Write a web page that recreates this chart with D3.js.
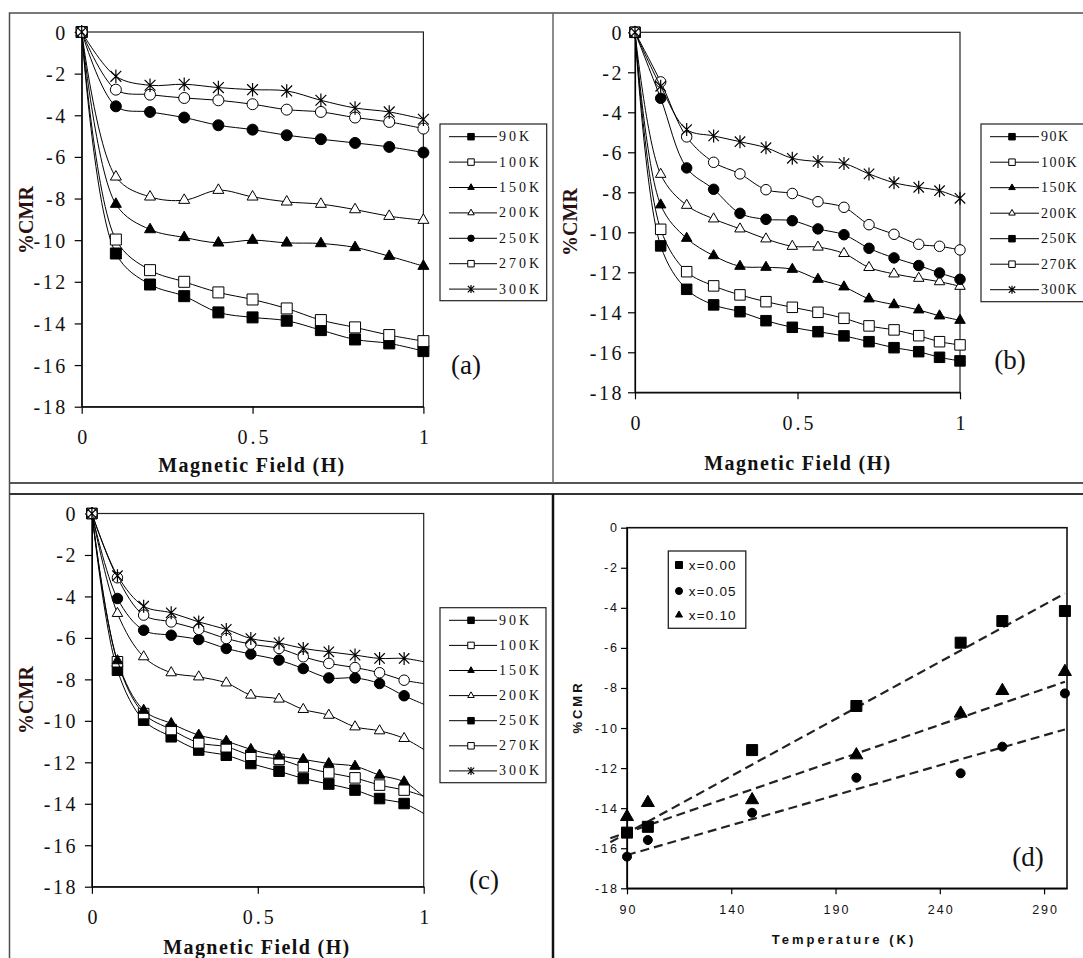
<!DOCTYPE html>
<html>
<head>
<meta charset="utf-8">
<script src="https://cdn.jsdelivr.net/npm/d3@7"></script>
<style>
body { margin: 0; background: #fff; }
svg { display: block; }
</style>
</head>
<body>
<div id="chart"></div>
<script>
// temperatures used in panels a, b, c
const temps = ["90K", "100K", "150K", "200K", "250K", "270K", "300K"];
// marker used for each temperature in the plots
const markers = ["square", "squareOpen", "triangle", "triangleOpen", "circle", "circleOpen", "star"];

// panel (a)
const fieldA = [0, 0.1, 0.2, 0.3, 0.4, 0.5, 0.6, 0.7, 0.8, 0.9, 1.0];
const cmrA = [
  [0, -10.64, -12.13, -12.69, -13.47, -13.71, -13.87, -14.32, -14.77, -14.96, -15.33],
  [0, -9.97, -11.44, -12.0, -12.51, -12.85, -13.28, -13.84, -14.19, -14.56, -14.85],
  [0, -8.27, -9.49, -9.87, -10.13, -10.0, -10.13, -10.16, -10.35, -10.77, -11.25],
  [0, -6.96, -7.92, -8.08, -7.6, -7.92, -8.16, -8.27, -8.53, -8.85, -9.04],
  [0, -3.57, -3.84, -4.11, -4.48, -4.69, -4.96, -5.15, -5.33, -5.52, -5.79],
  [0, -2.77, -3.01, -3.17, -3.28, -3.47, -3.73, -3.84, -4.11, -4.32, -4.64],
  [0, -2.13, -2.56, -2.51, -2.67, -2.77, -2.83, -3.28, -3.65, -3.84, -4.19]
];
const legendMarkA = ["square", "squareOpen", "triangle", "triangleOpen", "circle", "squareOpen", "star"];

// panel (b)
const fieldB = [0, 0.079, 0.159, 0.242, 0.323, 0.403, 0.484, 0.563, 0.643, 0.72, 0.797, 0.873, 0.937, 1.0];
const cmrB = [
  [0, -10.68, -12.85, -13.63, -13.97, -14.42, -14.75, -14.97, -15.18, -15.47, -15.77, -15.97, -16.25, -16.43],
  [0, -9.85, -11.97, -12.68, -13.13, -13.47, -13.75, -14.0, -14.3, -14.68, -14.88, -15.17, -15.47, -15.63],
  [0, -8.63, -10.3, -11.17, -11.7, -11.75, -11.85, -12.35, -12.73, -13.33, -13.62, -13.88, -14.18, -14.4],
  [0, -7.1, -8.65, -9.33, -9.83, -10.33, -10.7, -10.74, -11.06, -11.76, -12.08, -12.3, -12.47, -12.7],
  [0, -3.3, -6.78, -7.85, -9.05, -9.35, -9.42, -9.83, -10.12, -10.8, -11.28, -11.66, -12.03, -12.35],
  [0, -2.48, -5.23, -6.5, -7.08, -7.87, -8.06, -8.47, -8.75, -9.62, -10.1, -10.6, -10.7, -10.88],
  [0, -2.7, -4.86, -5.18, -5.47, -5.77, -6.3, -6.46, -6.56, -7.08, -7.52, -7.75, -7.92, -8.3]
];
const legendMarkB = ["square", "squareOpen", "triangle", "triangleOpen", "square", "squareOpen", "star"];

// panel (c): the curve continues to H = 1 (endC), without a marker there
const fieldC = [0, 0.077, 0.156, 0.239, 0.322, 0.405, 0.479, 0.564, 0.637, 0.714, 0.793, 0.867, 0.941];
const cmrC = [
  [0, -7.56, -9.97, -10.77, -11.41, -11.66, -12.06, -12.43, -12.78, -13.05, -13.34, -13.75, -13.99],
  [0, -7.15, -9.65, -10.42, -11.06, -11.25, -11.66, -11.86, -12.22, -12.51, -12.75, -13.1, -13.34],
  [0, -7.1, -9.49, -10.13, -10.69, -10.98, -11.38, -11.7, -11.86, -12.06, -12.19, -12.62, -12.94],
  [0, -4.82, -6.91, -7.68, -7.88, -8.17, -8.76, -8.95, -9.45, -9.73, -10.29, -10.48, -10.85],
  [0, -4.1, -5.63, -5.87, -6.08, -6.51, -6.78, -7.07, -7.48, -7.93, -7.93, -8.2, -8.79],
  [0, -3.1, -4.9, -5.23, -5.59, -6.03, -6.3, -6.51, -6.91, -7.23, -7.43, -7.68, -8.04],
  [0, -3.0, -4.47, -4.79, -5.23, -5.59, -6.03, -6.24, -6.51, -6.67, -6.83, -6.99, -6.99]
];
const endC = [-14.47, -13.63, -13.67, -11.38, -9.2, -8.2, -7.15];
const legendMarkC = ["square", "squareOpen", "triangle", "triangleOpen", "square", "squareOpen", "star"];

// panel (d)
const tempD = [90, 100, 150, 200, 250, 270, 300];
const dopeD = ["x=0.00", "x=0.05", "x=0.10"];
const cmrD = [
  [-15.22, -14.93, -11.1, -8.9, -5.74, -4.66, -4.16],
  [-16.42, -15.59, -14.23, -12.48, -12.26, -10.93, -8.27],
  [-14.43, -13.73, -13.59, -11.35, -9.27, -8.14, -7.19]
];
const markD = ["square", "circle", "triangle"];
// dashed trend lines: [T start, %CMR start, T end, %CMR end]
const fitD = [
  [82, -15.7, 300, -3.28],
  [90, -16.34, 300, -10.07],
  [82, -15.5, 300, -7.69]
];

const serif = "'Liberation Serif', 'Times New Roman', serif";
const sans = "'Liberation Sans', Arial, sans-serif";

const svg = d3.select("#chart").append("svg")
  .attr("width", 1083)
  .attr("height", 958);

// outer frame and dividers
const frame = svg.append("g").attr("fill", "none");
frame.append("path").attr("d", "M9.5,958 V13 H1083").attr("stroke", "#4d4d4d").attr("stroke-width", 1.5);
frame.append("line").attr("x1", 9.5).attr("x2", 1083).attr("y1", 483).attr("y2", 483)
  .attr("stroke", "#555").attr("stroke-width", 2);
frame.append("line").attr("x1", 9.5).attr("x2", 1083).attr("y1", 494).attr("y2", 494)
  .attr("stroke", "#333").attr("stroke-width", 2);
frame.append("line").attr("x1", 553).attr("x2", 553).attr("y1", 13).attr("y2", 483)
  .attr("stroke", "#666").attr("stroke-width", 1.5);
frame.append("line").attr("x1", 553).attr("x2", 553).attr("y1", 494).attr("y2", 958)
  .attr("stroke", "#111").attr("stroke-width", 2.5);

// draws one marker centred on (cx, cy), w = nominal width
function drawMarker(g, type, cx, cy, w) {
  const open = type.endsWith("Open");
  const base = type.replace("Open", "");
  if (base === "star") {
    const r = w / 2, d = r * 0.8;
    g.append("path")
      .attr("d", `M${cx},${cy - r}V${cy + r}M${cx - d},${cy - d}L${cx + d},${cy + d}M${cx - d},${cy + d}L${cx + d},${cy - d}`)
      .attr("stroke", "#000").attr("stroke-width", 1.2).attr("fill", "none");
    return;
  }
  let sym, area;
  if (base === "square") { sym = d3.symbolSquare; area = w * w; }
  else if (base === "circle") { sym = d3.symbolCircle; area = Math.PI * w * w / 4; }
  else { sym = d3.symbolTriangle; area = w * w * Math.sqrt(3) / 4; }
  g.append("path")
    .attr("d", d3.symbol(sym, area)())
    .attr("transform", `translate(${cx},${cy})`)
    .attr("fill", open ? "#fff" : "#000")
    .attr("stroke", "#000")
    .attr("stroke-width", 1);
}

function styleTicks(axisG, font, size, spacing) {
  axisG.select(".domain").attr("stroke", "#000").attr("stroke-width", 1.2);
  axisG.selectAll(".tick line").attr("stroke", "#000").attr("stroke-width", 1.2);
  axisG.selectAll(".tick text")
    .attr("font-family", font)
    .attr("font-size", size)
    .attr("letter-spacing", spacing)
    .attr("fill", "#111");
}

function fieldPanel(p) {
  const g = svg.append("g");
  const x = d3.scaleLinear().domain([0, 1]).range([p.l, p.r]);
  const y = d3.scaleLinear().domain([-18, 0]).range([p.b, p.t]);

  g.append("rect")
    .attr("x", p.l).attr("y", p.t)
    .attr("width", p.r - p.l).attr("height", p.b - p.t)
    .attr("fill", "none").attr("stroke", "#222").attr("stroke-width", 1.2);

  const ya = g.append("g")
    .attr("transform", `translate(${p.l},0)`)
    .call(d3.axisLeft(y).tickValues(d3.range(-18, 1, 2)).tickFormat(d => String(d))
      .tickSize(7).tickSizeOuter(0).tickPadding(p.yPad));
  styleTicks(ya, serif, 20, 2.5);
  ya.selectAll(".tick text").attr("dy", null).attr("dominant-baseline", "central");

  const xa = g.append("g")
    .attr("transform", `translate(0,${p.b})`)
    .call(d3.axisBottom(x).tickValues([0, 0.5, 1]).tickFormat(d => String(d))
      .tickSize(7).tickSizeOuter(0));
  styleTicks(xa, serif, 20, 3);
  xa.selectAll(".tick text").attr("dy", null).attr("dominant-baseline", "central")
    .attr("y", p.xLabY - p.b).attr("dx", 1.5);

  // series: smoothed lines with markers
  const line = d3.line()
    .x(d => x(d[0])).y(d => y(d[1]))
    .curve(d3.curveCatmullRom.alpha(0.5));
  p.vals.forEach((vals, i) => {
    const pts = p.xs.map((f, j) => [f, vals[j]]);
    if (p.ends) pts.push([1, p.ends[i]]);
    g.append("path").attr("d", line(pts))
      .attr("fill", "none").attr("stroke", "#000").attr("stroke-width", 1);
    const mg = g.append("g");
    const w = markers[i] === "star" ? p.mk + 2.5 : p.mk;
    p.xs.forEach((f, j) => drawMarker(mg, markers[i], x(f), y(vals[j]), w));
  });

  // legend
  const L = p.leg;
  const lg = g.append("g");
  lg.append("rect").attr("x", L.x).attr("y", L.y).attr("width", L.w).attr("height", L.h)
    .attr("fill", "#fff").attr("stroke", "#222").attr("stroke-width", 1.2);
  temps.forEach((t, i) => {
    const ry = L.row0 + i * L.dy;
    lg.append("line").attr("x1", L.x0).attr("x2", L.x1).attr("y1", ry).attr("y2", ry)
      .attr("stroke", "#000").attr("stroke-width", 1);
    drawMarker(lg, p.legMarks[i], L.mx, ry, p.legMarks[i] === "star" ? 8 : 6.5);
    lg.append("text").attr("x", L.tx).attr("y", ry)
      .attr("dominant-baseline", "central")
      .attr("font-family", serif).attr("font-size", 14).attr("letter-spacing", L.ls)
      .attr("fill", "#111").text(t);
  });

  // titles
  g.append("text").attr("x", p.title[0]).attr("y", p.title[1])
    .attr("text-anchor", "middle").attr("dominant-baseline", "central")
    .attr("font-family", serif).attr("font-size", 20).attr("font-weight", "bold")
    .attr("letter-spacing", 1.4).attr("fill", "#111")
    .text("Magnetic Field (H)");
  g.append("text")
    .attr("transform", `translate(${p.ylab[0]},${p.ylab[1]}) rotate(-90)`)
    .attr("text-anchor", "middle").attr("dominant-baseline", "central")
    .attr("font-family", serif).attr("font-size", 20).attr("font-weight", "bold")
    .attr("fill", "#2a1010")
    .text("%CMR");
  g.append("text").attr("x", p.tag[0]).attr("y", p.tag[1])
    .attr("text-anchor", "middle").attr("dominant-baseline", "central")
    .attr("font-family", serif).attr("font-size", 27).attr("fill", "#111")
    .text(p.tag[2]);
}

fieldPanel({
  l: 81.7, r: 423.4, t: 32, b: 406.7, yPad: 7, xLabY: 436.7, mk: 11,
  xs: fieldA, vals: cmrA, legMarks: legendMarkA,
  leg: { x: 440, y: 124, w: 106.7, h: 176.7, row0: 136.7, dy: 25.4, x0: 449, x1: 497, mx: 471, tx: 499, ls: 3 },
  title: [252, 465], ylab: [26, 220], tag: [466, 365, "(a)"]
});

fieldPanel({
  l: 635, r: 960, t: 32.3, b: 392.3, yPad: 4, xLabY: 423.3, mk: 10.5,
  xs: fieldB, vals: cmrB, legMarks: legendMarkB,
  leg: { x: 981, y: 124, w: 110, h: 177.7, row0: 136.7, dy: 25.5, x0: 990, x1: 1039, mx: 1012, tx: 1041, ls: 1.5 },
  title: [798, 463], ylab: [570, 222], tag: [1010, 360, "(b)"]
});

fieldPanel({
  l: 91.9, r: 423.7, t: 513.5, b: 886.7, yPad: 7, xLabY: 916.7, mk: 10.5,
  xs: fieldC, vals: cmrC, ends: endC, legMarks: legendMarkC,
  leg: { x: 440, y: 607.7, w: 106, h: 175, row0: 620.3, dy: 25.1, x0: 449, x1: 497, mx: 471, tx: 499, ls: 3 },
  title: [257, 946.7], ylab: [26, 700], tag: [484, 880, "(c)"]
});

// panel (d): %CMR at 1 T against temperature
const gd = svg.append("g");
const xD = d3.scaleLinear().domain([90, 301]).range([627, 1067]);
const yD = d3.scaleLinear().domain([-18, 0]).range([888.3, 527.7]);

gd.append("rect")
  .attr("x", 627).attr("y", 527.7).attr("width", 440).attr("height", 360.6)
  .attr("fill", "none").attr("stroke", "#111").attr("stroke-width", 1.6);

const yaD = gd.append("g").attr("transform", "translate(627,0)")
  .call(d3.axisLeft(yD).tickValues(d3.range(-18, 1, 2)).tickFormat(d => String(d))
    .tickSize(6).tickSizeOuter(0).tickPadding(2));
styleTicks(yaD, sans, 12.5, 2);
yaD.selectAll(".tick text").attr("dy", null).attr("dominant-baseline", "central");

const xaD = gd.append("g").attr("transform", "translate(0,888.3)")
  .call(d3.axisBottom(xD).tickValues([90, 140, 190, 240, 290]).tickFormat(d => String(d))
    .tickSize(6).tickSizeOuter(0));
styleTicks(xaD, sans, 12.5, 2);
xaD.selectAll(".tick text").attr("dy", null).attr("dominant-baseline", "central")
  .attr("y", 910 - 888.3).attr("dx", 1);

// dashed trend lines
fitD.forEach(f => {
  gd.append("line")
    .attr("x1", xD(f[0])).attr("y1", yD(f[1]))
    .attr("x2", xD(f[2])).attr("y2", yD(f[3]))
    .attr("stroke", "#222").attr("stroke-width", 2.2)
    .attr("stroke-dasharray", "9,5");
});

// data points
const markSizeD = [11, 9, 13];
cmrD.forEach((vals, i) => {
  tempD.forEach((t, j) => drawMarker(gd, markD[i], xD(t), yD(vals[j]), markSizeD[i]));
});

// legend (d)
gd.append("rect").attr("x", 668.3).attr("y", 551).attr("width", 77.5).attr("height", 77.3)
  .attr("fill", "#fff").attr("stroke", "#222").attr("stroke-width", 1.3);
const legRowsD = [565, 591, 615];
dopeD.forEach((t, i) => {
  drawMarker(gd, markD[i], 679, legRowsD[i], 7);
  gd.append("text").attr("x", 688.7).attr("y", legRowsD[i])
    .attr("dominant-baseline", "central")
    .attr("font-family", sans).attr("font-size", 13.5).attr("letter-spacing", 1.2)
    .attr("fill", "#111").text(t);
});

gd.append("text").attr("x", 844).attr("y", 939)
  .attr("text-anchor", "middle").attr("dominant-baseline", "central")
  .attr("font-family", sans).attr("font-size", 13).attr("font-weight", "bold")
  .attr("letter-spacing", 3).attr("fill", "#111")
  .text("Temperature (K)");
gd.append("text")
  .attr("transform", "translate(577,707) rotate(-90)")
  .attr("text-anchor", "middle").attr("dominant-baseline", "central")
  .attr("font-family", sans).attr("font-size", 13).attr("font-weight", "bold")
  .attr("letter-spacing", 3).attr("fill", "#111")
  .text("%CMR");
gd.append("text").attr("x", 1028).attr("y", 857)
  .attr("text-anchor", "middle").attr("dominant-baseline", "central")
  .attr("font-family", serif).attr("font-size", 27).attr("fill", "#111")
  .text("(d)");
</script>
</body>
</html>
